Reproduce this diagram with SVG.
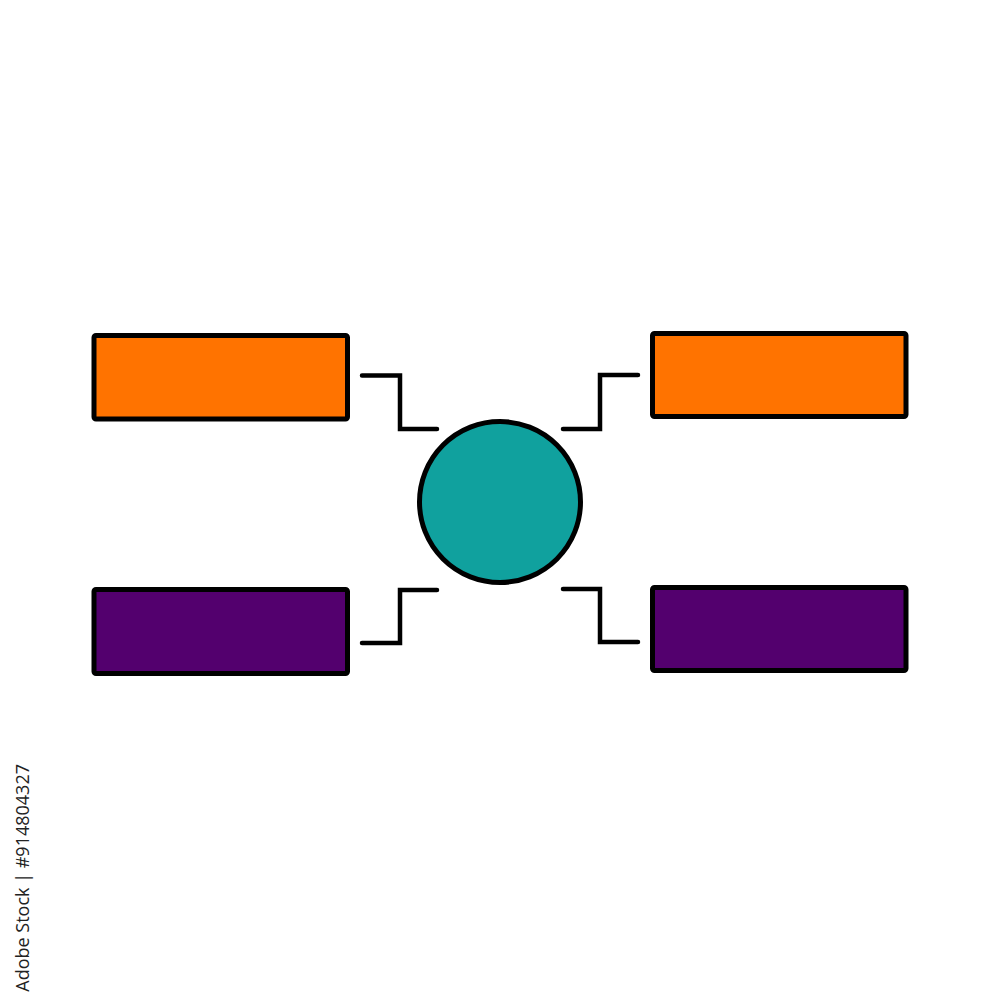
<svg xmlns="http://www.w3.org/2000/svg" width="1000" height="1000" viewBox="0 0 1000 1000">
<style>
.box{stroke:#000;stroke-width:5;stroke-linejoin:round}
.orange{fill:#FF7300}
.purple{fill:#53006E}
.hub{fill:#10A19E;stroke:#000;stroke-width:5}
.conn{fill:none;stroke:#000;stroke-width:4.5;stroke-linecap:round;stroke-linejoin:miter}
.id{font-family:"Open Sans","Liberation Sans",sans-serif;font-size:18px;fill:#222}
</style>
<rect width="1000" height="1000" fill="#fff"/>
<g id="connectors">
<polyline class="conn" points="362,375.5 400,375.5 400,429 437,429"/>
<polyline class="conn" points="638,375 600,375 600,429 563,429"/>
<polyline class="conn" points="437,590 400,590 400,643 362,643"/>
<polyline class="conn" points="563,589 600,589 600,642 638,642"/>
</g>
<g id="box-top-left"><rect class="box orange" x="94" y="335.5" width="253.5" height="83.5" rx="2"/></g>
<g id="box-top-right"><rect class="box orange" x="652.5" y="333.5" width="253.5" height="83" rx="2"/></g>
<g id="box-bottom-left"><rect class="box purple" x="94" y="589.5" width="253.5" height="84" rx="2"/></g>
<g id="box-bottom-right"><rect class="box purple" x="652.5" y="587.5" width="253.5" height="83" rx="2"/></g>
<g id="hub"><circle class="hub" cx="500" cy="502" r="80.5"/></g>
<text class="id" transform="translate(29,764) rotate(-90)" text-anchor="end">Adobe Stock | #914804327</text>
</svg>
